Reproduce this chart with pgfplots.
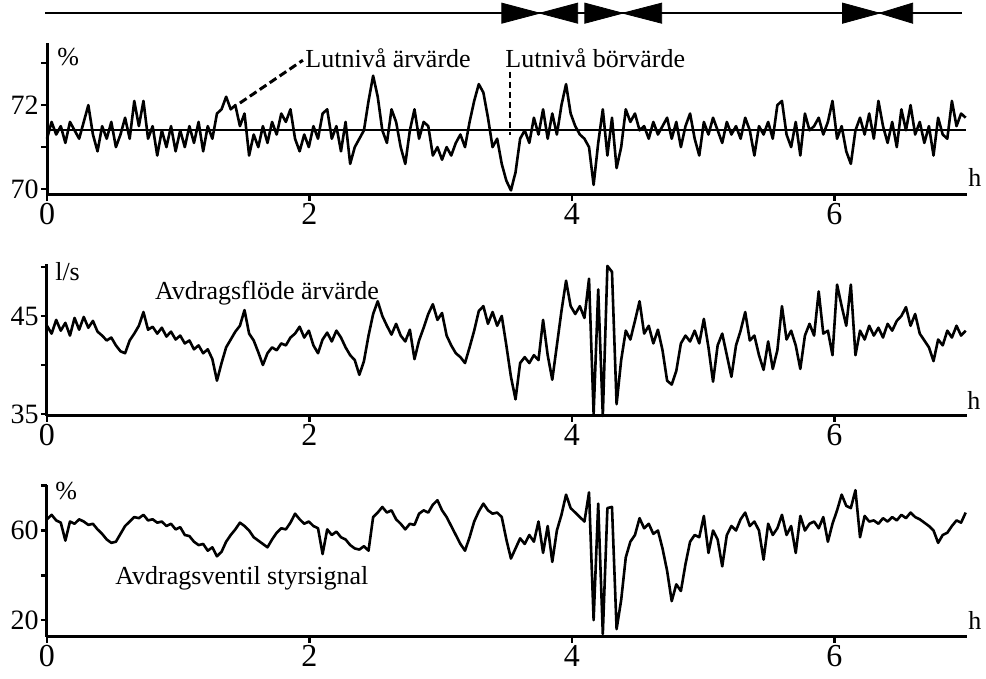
\documentclass[border=0pt]{standalone}
\usepackage{fontspec}
\setmainfont{Liberation Serif}
\usepackage{pgfplots}
\pgfplotsset{compat=1.18}
\usepackage{pgfplotstable}

\pgfplotstableread{
lev flow valve
71.2 44.0 65.0
71.6 43.2 67.0
71.3 44.6 64.5
71.5 43.5 63.5
71.1 44.3 55.5
71.6 43.0 64.0
71.4 44.8 63.0
71.2 43.6 65.0
71.6 44.9 64.0
72.0 43.8 62.5
71.3 44.5 63.0
70.9 43.4 60.5
71.5 43.0 58.5
71.2 42.5 56.0
71.6 42.8 54.5
71.0 42.0 55.0
71.3 41.4 58.5
71.7 41.2 62.0
71.2 42.5 64.0
72.1 43.2 66.0
71.5 44.0 65.5
72.1 45.4 67.0
71.2 43.6 64.5
71.5 43.9 65.0
70.8 43.2 63.5
71.4 43.8 64.0
71.0 42.9 62.0
71.5 43.4 63.0
70.9 42.6 60.5
71.4 43.0 61.5
71.0 42.2 58.0
71.5 42.5 57.5
71.1 41.6 55.0
71.6 42.0 53.5
70.9 41.2 54.0
71.5 41.6 51.0
71.2 40.6 52.5
71.8 38.4 48.5
71.9 40.2 50.5
72.2 41.8 55.0
71.9 42.6 58.0
72.0 43.4 60.5
71.5 44.0 63.5
71.8 45.6 62.0
70.8 43.2 60.0
71.3 42.5 57.0
71.0 41.3 55.5
71.5 40.0 54.0
71.1 41.2 52.5
71.6 41.8 56.0
71.3 41.5 59.0
71.8 42.2 61.0
71.6 42.0 60.5
71.9 42.8 63.5
71.2 43.2 67.5
70.9 43.9 65.0
71.3 42.8 63.0
71.0 43.5 64.0
71.5 42.0 62.0
71.2 41.2 61.0
71.8 42.6 49.5
71.9 43.3 60.5
71.2 42.4 58.0
71.5 43.5 59.5
70.9 42.8 57.0
71.6 41.8 56.0
70.6 41.0 53.5
71.0 40.5 52.0
71.2 39.0 51.5
71.4 40.4 53.0
72.1 43.0 51.0
72.7 45.2 66.0
72.2 46.5 68.0
71.4 45.0 70.5
71.1 44.0 68.0
71.9 43.1 69.0
71.6 44.2 65.0
71.0 43.0 63.0
70.6 42.4 60.5
71.4 43.6 63.0
71.9 40.6 62.5
71.2 42.5 67.5
71.6 43.8 69.0
71.5 45.2 68.0
70.8 46.2 71.5
71.0 44.6 73.5
70.7 45.3 69.0
71.0 43.0 66.0
70.8 42.0 62.0
71.1 41.2 58.0
71.3 40.8 54.0
71.0 40.2 51.0
71.6 41.8 57.0
72.1 43.5 64.0
72.5 45.5 68.5
72.3 46.0 72.0
71.7 44.2 69.0
71.0 45.4 67.5
71.2 44.0 68.0
70.6 45.0 66.0
70.2 42.0 56.0
69.97 38.8 47.5
70.4 36.5 52.0
71.2 40.2 56.5
71.4 40.8 54.0
71.1 40.2 58.0
71.7 41.0 55.0
71.3 40.5 64.0
71.9 44.6 50.0
71.2 41.0 62.0
71.8 38.5 46.0
71.3 42.0 60.0
72.0 45.5 67.0
72.5 48.6 76.0
71.8 46.0 70.0
71.5 45.2 68.0
71.3 46.0 66.0
71.2 44.8 64.0
71.0 48.8 77.0
70.1 35.0 20.0
71.1 47.7 72.0
71.9 34.8 13.8
70.8 50.1 70.0
71.7 49.5 70.5
70.5 36.0 16.0
71.0 40.5 29.0
71.9 43.5 48.0
71.6 42.6 55.0
71.8 44.5 58.0
71.4 46.5 65.5
71.5 43.2 61.0
71.2 44.0 63.0
71.6 42.2 58.5
71.3 43.6 60.0
71.5 41.5 52.0
71.7 38.4 42.0
71.2 38.0 28.5
71.6 39.4 36.0
71.0 42.2 33.0
71.5 43.0 45.0
71.8 42.4 55.0
71.2 43.5 58.0
70.8 42.2 57.0
71.6 44.7 66.5
71.3 41.8 50.0
71.7 38.3 60.0
71.4 42.0 56.0
71.1 43.2 44.0
71.6 41.0 58.0
71.3 38.8 62.0
71.5 42.0 60.0
71.2 43.5 65.0
71.7 45.4 68.0
71.4 42.5 62.0
70.8 43.0 64.0
71.5 41.0 60.0
71.3 39.5 47.0
71.6 42.4 63.0
71.2 39.6 58.0
72.0 41.5 61.0
72.1 46.0 67.0
71.3 42.6 58.0
71.0 43.5 62.0
71.6 42.0 50.0
70.8 39.6 66.5
71.8 43.0 60.0
71.4 44.2 63.0
71.5 43.0 64.0
71.7 47.5 61.0
71.3 43.2 66.0
71.6 43.5 55.0
72.1 41.0 63.0
71.2 48.2 69.0
71.5 46.0 76.0
70.9 44.0 71.0
70.6 48.2 70.0
71.4 41.0 78.0
71.7 43.5 57.0
71.3 42.6 66.5
71.8 44.0 64.0
71.2 43.0 64.5
72.1 43.8 63.0
71.5 42.8 65.5
71.1 44.2 64.0
71.6 43.5 66.0
71.0 44.5 64.5
71.9 45.0 67.0
71.4 45.9 65.5
72.0 44.0 68.0
71.3 45.2 66.0
71.6 43.2 65.0
71.1 42.5 63.5
71.5 41.8 62.0
70.8 40.4 60.0
71.7 42.6 54.5
71.3 42.0 58.0
71.2 43.5 59.0
72.1 42.8 62.0
71.5 44.0 64.5
71.8 43.0 63.5
71.7 43.5 68.0
}\data

\tikzset{
  lbl/.style={font=\fontsize{13}{13}\selectfont, inner sep=0pt},
  sig/.style={black, line width=1.3pt, line join=round},
}
\pgfplotsset{
  panel/.style={
    scale only axis, width=460pt, height=76pt,
    anchor=south west,
    xmin=0, xmax=7.01,
    axis x line=bottom, axis y line=left,
    axis line style={line width=1.5pt, -},
    xtick={0,2,4,6},
    tick align=outside,
    major tick length=3pt,
    every tick/.style={black, line width=1.2pt},
    /pgf/number format/assume math mode=true,
    xticklabel style={font=\fontsize{16}{16}\selectfont, inner sep=1pt},
    yticklabel style={font=\fontsize{14}{14}\selectfont, inner sep=1pt},
    clip=false,
  },
}

\begin{document}
\begin{tikzpicture}[x=1pt,y=1pt]
\path[use as bounding box] (0,0) rectangle (493,339.5);

% Panel 1: Lutniva
\begin{axis}[panel, at={(23.5pt,242pt)}, ymin=69.86, ymax=73.48,
  ytick={70,71,72,73}, yticklabels={70,,72,}]
  \addplot[black, line width=0.9pt] coordinates {(0,71.4) (7.0,71.4)};
  \addplot[sig] table[x expr=\coordindex*0.035, y=lev]{\data};
  \draw[line width=1.5pt, dash pattern=on 4pt off 2pt] (axis cs:1.47,72.05) -- (axis cs:1.95,73.07);
  \draw[line width=1.2pt, dash pattern=on 3pt off 2pt] (axis cs:3.526,72.8) -- (axis cs:3.526,71.3);
  \node[lbl, anchor=west] at (axis cs:1.966,73.12) {Lutnivå ärvärde};
  \node[lbl, anchor=west] at (axis cs:3.49,73.12) {Lutnivå börvärde};
  \node[lbl, anchor=west] at (axis cs:0.076,73.14) {\%};
  \node[lbl, anchor=south west] at ([xshift=0.5pt,yshift=4pt]rel axis cs:1,0) {h};
  % event strip
  \addplot[black, line width=1.2pt] coordinates {(-0.015,74.19) (6.97,74.19)};
  \addplot[fill=black, draw=black, line width=0.4pt] coordinates {(3.465,74.43) (3.465,73.95) (3.755,74.19) (4.044,74.43) (4.044,73.95) (3.755,74.19)} --cycle;
  \addplot[fill=black, draw=black, line width=0.4pt] coordinates {(4.098,74.43) (4.098,73.95) (4.387,74.19) (4.684,74.43) (4.684,73.95) (4.387,74.19)} --cycle;
  \addplot[fill=black, draw=black, line width=0.4pt] coordinates {(6.062,74.43) (6.062,73.95) (6.344,74.19) (6.596,74.43) (6.596,73.95) (6.344,74.19)} --cycle;
\end{axis}

% Panel 2: Avdragsflode
\begin{axis}[panel, at={(23.5pt,131.5pt)}, ymin=34.8, ymax=50.3,
  ytick={35,40,45,50}, yticklabels={35,,45,}]
  \addplot[sig] table[x expr=\coordindex*0.035, y=flow]{\data};
  \node[lbl, anchor=west] at (axis cs:0.06,49.5) {l/s};
  \node[lbl, anchor=west] at (axis cs:0.82,47.35) {Avdragsflöde ärvärde};
  \node[lbl, anchor=south west] at ([xshift=0pt,yshift=3pt]rel axis cs:1,0) {h};
\end{axis}

% Panel 3: Avdragsventil
\begin{axis}[panel, at={(23.5pt,21pt)}, ymin=12.5, ymax=80.3,
  ytick={20,40,60,80}, yticklabels={20,,60,}]
  \addplot[sig] table[x expr=\coordindex*0.035, y=valve]{\data};
  \node[lbl, anchor=west] at (axis cs:0.06,77.6) {\%};
  \node[lbl, anchor=west] at (axis cs:0.518,38.9) {Avdragsventil styrsignal};
  \node[lbl, anchor=south west] at ([xshift=0.5pt,yshift=3.5pt]rel axis cs:1,0) {h};
\end{axis}
\end{tikzpicture}
\end{document}
